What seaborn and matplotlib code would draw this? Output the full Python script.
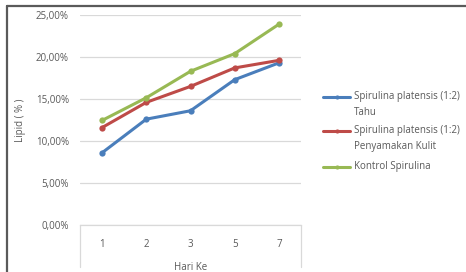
import pandas as pd
import matplotlib
matplotlib.use("Agg")
import matplotlib.pyplot as plt
import seaborn as sns
from matplotlib.lines import Line2D
from matplotlib.ticker import FuncFormatter

# Data
hari = ["1", "2", "3", "5", "7"]
tahu = [8.6, 12.6, 13.6, 17.3, 19.3]
kulit = [11.6, 14.6, 16.5, 18.7, 19.6]
kontrol = [12.45, 15.15, 18.3, 20.4, 23.9]

series_names = [
    "Spirulina platensis (1:2)\nTahu",
    "Spirulina platensis (1:2)\nPenyamakan Kulit",
    "Kontrol Spirulina",
]
colors = ["#4A7EBB", "#BE4B48", "#98B954"]

df = pd.DataFrame({
    "hari": hari * 3,
    "lipid": tahu + kulit + kontrol,
    "seri": [series_names[0]] * 5 + [series_names[1]] * 5 + [series_names[2]] * 5,
})

sns.set_style("white")
plt.rcParams["font.family"] = ["Open Sans", "DejaVu Sans"]

W, H = 466, 272
fig = plt.figure(figsize=(W / 100, H / 100), dpi=100)
ax = fig.add_axes([80 / W, 47 / H, 221 / W, 210 / H])

sns.lineplot(data=df, x="hari", y="lipid", hue="seri", palette=colors,
             marker="o", markersize=4.5, markeredgewidth=0, linewidth=2.2,
             sort=False, ax=ax, legend=False)

ax.set_xlim(-0.5, 4.5)
ax.set_ylim(0, 25)
ax.set_yticks([0, 5, 10, 15, 20, 25])
ax.yaxis.set_major_formatter(FuncFormatter(lambda v, p: f"{v:.2f}%".replace(".", ",")))
ax.grid(axis="y", color="#D9D9D9", linewidth=0.9)
ax.set_axisbelow(True)
for s in ["top", "right", "left"]:
    ax.spines[s].set_visible(False)
ax.spines["bottom"].set_color("#D9D9D9")
ax.spines["bottom"].set_linewidth(0.9)
ax.tick_params(axis="both", length=0, labelsize=7, labelcolor="#595959", pad=8)
ax.tick_params(axis="x", pad=10)

# end tick marks of the category axis
for xv in [0, 1]:
    ax.add_line(Line2D([xv, xv], [0, -0.2], transform=ax.transAxes,
                       color="#D9D9D9", linewidth=0.9, clip_on=False))

ax.set_xlabel("Hari Ke", fontsize=7, color="#595959", labelpad=9)
ax.set_ylabel("Lipid ( % )", fontsize=7, color="#595959", labelpad=7)

# legend drawn by hand so the key sits on the first text line, like Excel
legend_rows = [97, 131, 167]
for name, c, yy in zip(series_names, colors, legend_rows):
    fy = 1 - yy / H
    fig.add_artist(Line2D([323 / W, 350 / W], [fy, fy], transform=fig.transFigure,
                          color=c, linewidth=2.2))
    fig.add_artist(Line2D([337 / W], [fy], transform=fig.transFigure, color=c,
                          marker="o", markersize=3, markeredgewidth=0))
    fig.text(354 / W, fy + 5.5 / H, name, fontsize=7, color="#595959", va="top",
             linespacing=1.55, transform=fig.transFigure)

# outer frame (top and left edges)
fig.add_artist(Line2D([7 / W, 1], [1 - 6 / H, 1 - 6 / H], transform=fig.transFigure,
                      color="#5A5A5A", linewidth=1.6))
fig.add_artist(Line2D([7 / W, 7 / W], [0, 1 - 6 / H], transform=fig.transFigure,
                      color="#5A5A5A", linewidth=1.6))

fig.savefig("out.png", dpi=100)
